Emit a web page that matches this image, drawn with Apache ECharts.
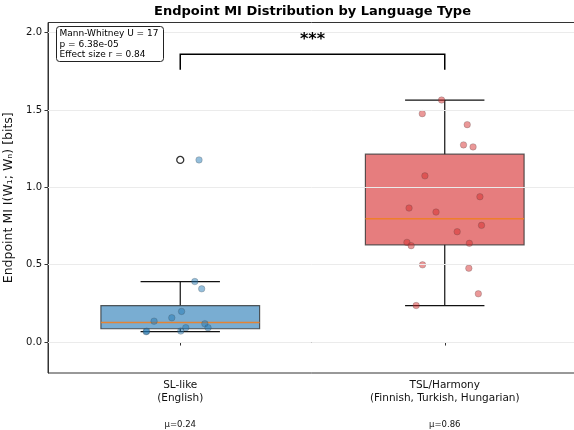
<!DOCTYPE html>
<html>
<head>
<meta charset="utf-8">
<script src="https://cdn.jsdelivr.net/npm/echarts@6/dist/echarts.min.js"></script>
<style>html,body{margin:0;padding:0;background:#fff;}#c{width:574px;height:430px;}</style>
</head>
<body>
<div id="c"></div>
<script>
// ---- data ----
const categories = ['SL-like\n(English)', 'TSL/Harmony\n(Finnish, Turkish, Hungarian)'];
const meanLabels = ['μ=0.24', 'μ=0.86'];
const positions = [1, 2];
const yTicks = [0, 0.5, 1.0, 1.5, 2.0];

// box stats: [lowWhisker, Q1, median, Q3, highWhisker]
const slBox = [0.067, 0.086, 0.127, 0.236, 0.391];
const tslBox = [0.236, 0.628, 0.797, 1.214, 1.564];
const slFliers = [1.177];

// individual points and their horizontal jitter (category units)
const slValues = [1.177, 0.391, 0.344, 0.198, 0.157, 0.135, 0.118, 0.093, 0.093, 0.071, 0.067, 0.070];
const slJitter = [0.071, 0.055, 0.081, 0.005, -0.032, -0.099, 0.093, 0.105, 0.021, 0.002, -0.129, -0.127];
const tslValues = [1.564, 1.476, 1.405, 1.274, 1.261, 1.074, 0.939, 0.866, 0.840, 0.754, 0.713, 0.644, 0.623, 0.638, 0.499, 0.477, 0.312, 0.236];
const tslJitter = [-0.012, -0.085, 0.085, 0.071, 0.107, -0.075, 0.133, -0.135, -0.033, 0.139, 0.047, -0.143, -0.127, 0.093, -0.084, 0.091, 0.127, -0.108];

const statsLines = ['Mann-Whitney U = 17', 'p = 6.38e-05', 'Effect size r = 0.84'];
const sigText = '***';
const bracketTop = 1.86;
const bracketBottom = 1.76;

// ---- chart ----
const FONT = 'DejaVu Sans';
const chart = echarts.init(document.getElementById('c'), null, {renderer: 'canvas'});

const boxData = [[positions[0]].concat(slBox), [positions[1]].concat(tslBox)];
const boxFill = ['rgba(31,119,180,0.6)', 'rgba(214,39,40,0.6)'];

function renderBox(params, api) {
  const x = api.value(0);
  const lo = api.value(1), q1 = api.value(2), med = api.value(3), q3 = api.value(4), hi = api.value(5);
  const halfW = api.size([0.6, 0])[0] / 2;
  const capW = api.size([0.3, 0])[0] / 2;
  const cx = api.coord([x, 0])[0];
  const yq1 = api.coord([x, q1])[1], yq3 = api.coord([x, q3])[1];
  const ymed = api.coord([x, med])[1], ylo = api.coord([x, lo])[1], yhi = api.coord([x, hi])[1];
  const lineStyle = {stroke: '#111', lineWidth: 1.2};
  return {
    type: 'group',
    children: [
      {type: 'line', shape: {x1: cx, y1: yq3, x2: cx, y2: yhi}, style: lineStyle},
      {type: 'line', shape: {x1: cx, y1: yq1, x2: cx, y2: ylo}, style: lineStyle},
      {type: 'line', shape: {x1: cx - capW, y1: yhi, x2: cx + capW, y2: yhi}, style: lineStyle},
      {type: 'line', shape: {x1: cx - capW, y1: ylo, x2: cx + capW, y2: ylo}, style: lineStyle},
      {type: 'rect', shape: {x: cx - halfW, y: yq3, width: 2 * halfW, height: yq1 - yq3},
        style: {fill: boxFill[params.dataIndex], stroke: 'rgba(40,40,40,0.75)', lineWidth: 1.2}},
      {type: 'line', shape: {x1: cx - halfW, y1: ymed, x2: cx + halfW, y2: ymed},
        style: {stroke: '#f07f22', lineWidth: 1.5, opacity: 0.9}}
    ]
  };
}

function renderBracket(params, api) {
  const p1 = api.coord([positions[0], bracketBottom]);
  const p2 = api.coord([positions[0], bracketTop]);
  const p3 = api.coord([positions[1], bracketTop]);
  const p4 = api.coord([positions[1], bracketBottom]);
  return {
    type: 'group',
    children: [
      {type: 'polyline', shape: {points: [p1, p2, p3, p4]}, style: {stroke: '#000', lineWidth: 1.5, fill: null}},
      {type: 'text', style: {text: sigText, x: (p2[0] + p3[0]) / 2, y: p2[1] - 6, align: 'center', verticalAlign: 'bottom',
        font: 'bold 16px "' + FONT + '"', fill: '#000'}}
    ]
  };
}

const option = {
  animation: false,
  backgroundColor: '#fff',
  textStyle: {fontFamily: FONT},
  grid: {left: 48, top: 22.5, width: 529, height: 350.5, show: true, borderColor: '#333', borderWidth: 1,
    backgroundColor: 'transparent', containLabel: false, outerBoundsMode: 'none'},
  graphic: [
    {type: 'text', x: 312.5, y: 5, z: 100, style: {text: 'Endpoint MI Distribution by Language Type', font: 'bold 13px "' + FONT + '"', fill: '#000', align: 'center', verticalAlign: 'top'}},
    {type: 'group', x: 56.5, y: 26.5, z: 100, children: [
      {type: 'rect', z: 100, shape: {x: 0, y: 0, width: 107, height: 35, r: 3}, style: {fill: '#fff', stroke: '#222', lineWidth: 1}},
      {type: 'text', z: 101, x: 3, y: 2, style: {text: statsLines.join('\n'), font: '9px "' + FONT + '"', lineHeight: 10.5, fill: '#000', verticalAlign: 'top', align: 'left'}}
    ]}
  ],
  xAxis: {
    type: 'value', min: 0.5, max: 2.5,
    axisLine: {show: true, lineStyle: {color: '#333'}},
    axisTick: {show: true, customValues: positions, length: 3.5, lineStyle: {color: '#333'}},
    splitLine: {show: false},
    axisLabel: {
      customValues: positions,
      margin: 6,
      formatter: function (v) {
        const i = positions.indexOf(v);
        if (i < 0) return '';
        const parts = categories[i].split('\n');
        return '{a|' + parts[0] + '}\n{a|' + parts[1] + '}\n{g|}\n{m|' + meanLabels[i] + '}';
      },
      rich: {
        a: {fontSize: 10.5, lineHeight: 13, color: '#111', fontFamily: FONT},
        g: {fontSize: 8, lineHeight: 13},
        m: {fontSize: 8.5, lineHeight: 13, color: '#111', fontFamily: FONT}
      }
    }
  },
  yAxis: {
    type: 'value', min: -0.2, max: 2.065,
    name: 'Endpoint MI I(W\u2081; W\u2099) [bits]',
    nameLocation: 'middle', nameGap: 33, nameRotate: 90,
    nameTextStyle: {fontSize: 12.5, color: '#111', fontFamily: FONT},
    axisLine: {show: true, lineStyle: {color: '#333'}},
    axisTick: {show: true, customValues: yTicks, length: 3.5, lineStyle: {color: '#333'}},
    splitLine: {show: false},
    axisLabel: {customValues: yTicks, fontSize: 10, color: '#111', margin: 6, formatter: v => v.toFixed(1)}
  },
  series: [
    {
      type: 'line', data: [], z: 0, silent: true,
      markLine: {silent: true, symbol: 'none', label: {show: false},
        lineStyle: {color: '#ebebeb', width: 1, type: 'solid'},
        data: yTicks.map(v => ({yAxis: v}))}
    },
    {type: 'custom', renderItem: renderBox, data: boxData, z: 2, clip: false},
    {type: 'scatter', z: 3, symbolSize: 7, data: slFliers.map(v => [positions[0], v]),
      itemStyle: {color: '#fff', borderColor: '#000', borderWidth: 1.3}},
    {type: 'scatter', z: 4, symbolSize: 6.5, data: slValues.map((v, i) => [positions[0] + slJitter[i], v]),
      itemStyle: {color: 'rgba(31,119,180,0.6)', borderColor: 'rgba(70,70,70,0.55)', borderWidth: 0.6}},
    {type: 'scatter', z: 4, symbolSize: 6.5, data: tslValues.map((v, i) => [positions[1] + tslJitter[i], v]),
      itemStyle: {color: 'rgba(214,39,40,0.6)', borderColor: 'rgba(70,70,70,0.55)', borderWidth: 0.6}},
    {type: 'custom', renderItem: renderBracket, data: [[0]], z: 5, clip: false}
  ]
};
chart.setOption(option);
</script>
</body>
</html>
